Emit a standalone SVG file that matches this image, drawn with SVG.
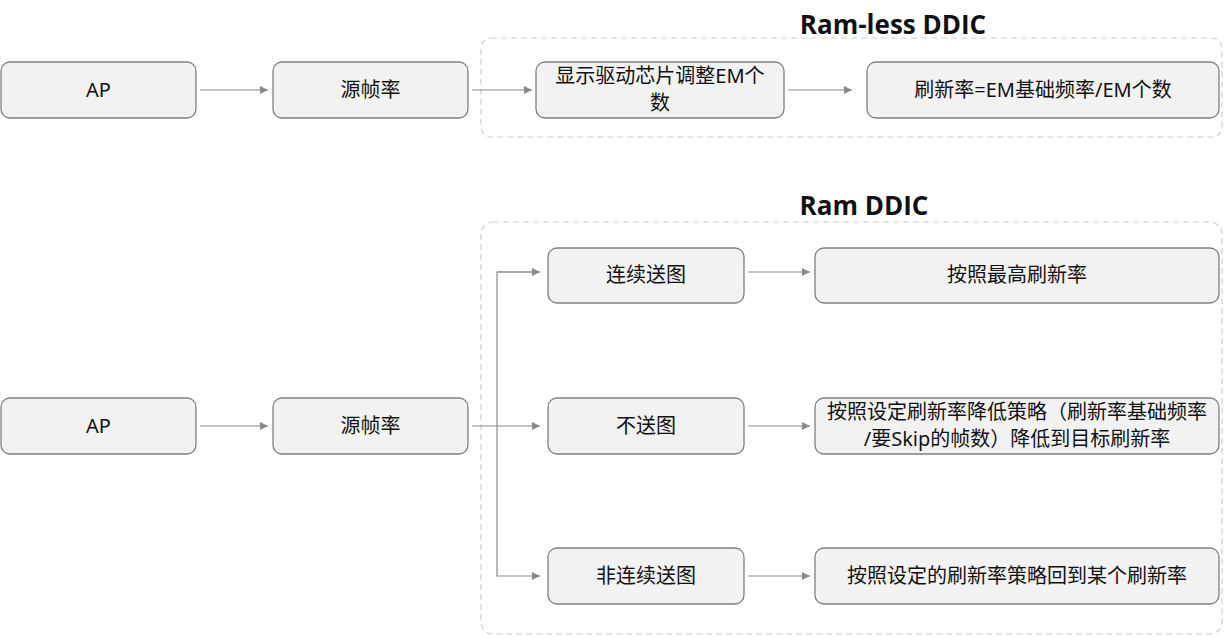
<svg xmlns="http://www.w3.org/2000/svg" width="1224" height="636" viewBox="0 0 1224 636">
<defs>
<marker id="ah" markerWidth="10" markerHeight="10" refX="8" refY="5" orient="auto" markerUnits="userSpaceOnUse">
<path d="M0,1 L8,5 L0,9 Z" fill="#8a8a8a"/>
</marker>
</defs>
<style>
.box{fill:#f2f2f2;stroke:#7f7f7f;stroke-width:1.3}
.grp{fill:none;stroke:#d0d0d0;stroke-width:1.2;stroke-dasharray:6,4}
.t{font-family:"Noto Sans","Noto Sans CJK SC",sans-serif;font-size:20px;fill:#111;text-anchor:middle}
.title{font-family:"Open Sans","Noto Sans","Noto Sans CJK SC",sans-serif;font-size:26px;font-weight:bold;fill:#111;text-anchor:middle}
.c{fill:none;stroke:#8a8a8a;stroke-width:1.2}
</style>
<rect width="1224" height="636" fill="#ffffff"/>
<g id="group-ramless">
<rect class="grp" x="481" y="38" width="741" height="99" rx="10"/>
<text class="title" x="893" y="34">Ram-less DDIC</text>
</g>
<g id="group-ram">
<rect class="grp" x="481" y="222" width="741" height="412" rx="12"/>
<text class="title" x="864" y="215">Ram DDIC</text>
</g>
<g id="connectors">
<line class="c" x1="200" y1="90" x2="268" y2="90" marker-end="url(#ah)"/>
<line class="c" x1="472" y1="90" x2="532" y2="90" marker-end="url(#ah)"/>
<line class="c" x1="788" y1="90" x2="852" y2="90" marker-end="url(#ah)"/>
<line class="c" x1="200" y1="426" x2="268" y2="426" marker-end="url(#ah)"/>
<line class="c" x1="472" y1="426" x2="540" y2="426" marker-end="url(#ah)"/>
<polyline class="c" points="540,272 497,272 497,576 540,576" marker-end="url(#ah)"/>
<line class="c" x1="497" y1="272" x2="540" y2="272" marker-end="url(#ah)"/>
<line class="c" x1="748" y1="272" x2="810" y2="272" marker-end="url(#ah)"/>
<line class="c" x1="748" y1="426" x2="810" y2="426" marker-end="url(#ah)"/>
<line class="c" x1="748" y1="576" x2="810" y2="576" marker-end="url(#ah)"/>
</g>
<g id="ap1"><rect class="box" x="1" y="62" width="195" height="56" rx="9"/><text class="t" x="98.5" y="97">AP</text></g>
<g id="src1"><rect class="box" x="273" y="62" width="195" height="56" rx="9"/><text class="t" x="370.5" y="97">源帧率</text></g>
<g id="em"><rect class="box" x="536" y="62" width="248" height="56" rx="9"/><text class="t" x="660" y="83">显示驱动芯片调整EM个</text><text class="t" x="660" y="110">数</text></g>
<g id="rate1"><rect class="box" x="867" y="62" width="352" height="56" rx="9"/><text class="t" x="1043" y="97">刷新率=EM基础频率/EM个数</text></g>
<g id="ap2"><rect class="box" x="1" y="398" width="195" height="56" rx="9"/><text class="t" x="98.5" y="433">AP</text></g>
<g id="src2"><rect class="box" x="273" y="398" width="195" height="56" rx="9"/><text class="t" x="370.5" y="433">源帧率</text></g>
<g id="cont"><rect class="box" x="548" y="248" width="196" height="55" rx="9"/><text class="t" x="646" y="282">连续送图</text></g>
<g id="max"><rect class="box" x="815" y="248" width="404" height="55" rx="9"/><text class="t" x="1017" y="282">按照最高刷新率</text></g>
<g id="none"><rect class="box" x="548" y="398" width="196" height="56" rx="9"/><text class="t" x="646" y="433">不送图</text></g>
<g id="lower"><rect class="box" x="815" y="398" width="404" height="56" rx="9"/><text class="t" x="1017" y="419">按照设定刷新率降低策略（刷新率基础频率</text><text class="t" x="1017" y="446">/要Skip的帧数）降低到目标刷新率</text></g>
<g id="noncont"><rect class="box" x="548" y="548" width="196" height="56" rx="9"/><text class="t" x="646" y="583">非连续送图</text></g>
<g id="back"><rect class="box" x="815" y="548" width="404" height="56" rx="9"/><text class="t" x="1017" y="583">按照设定的刷新率策略回到某个刷新率</text></g>
</svg>
